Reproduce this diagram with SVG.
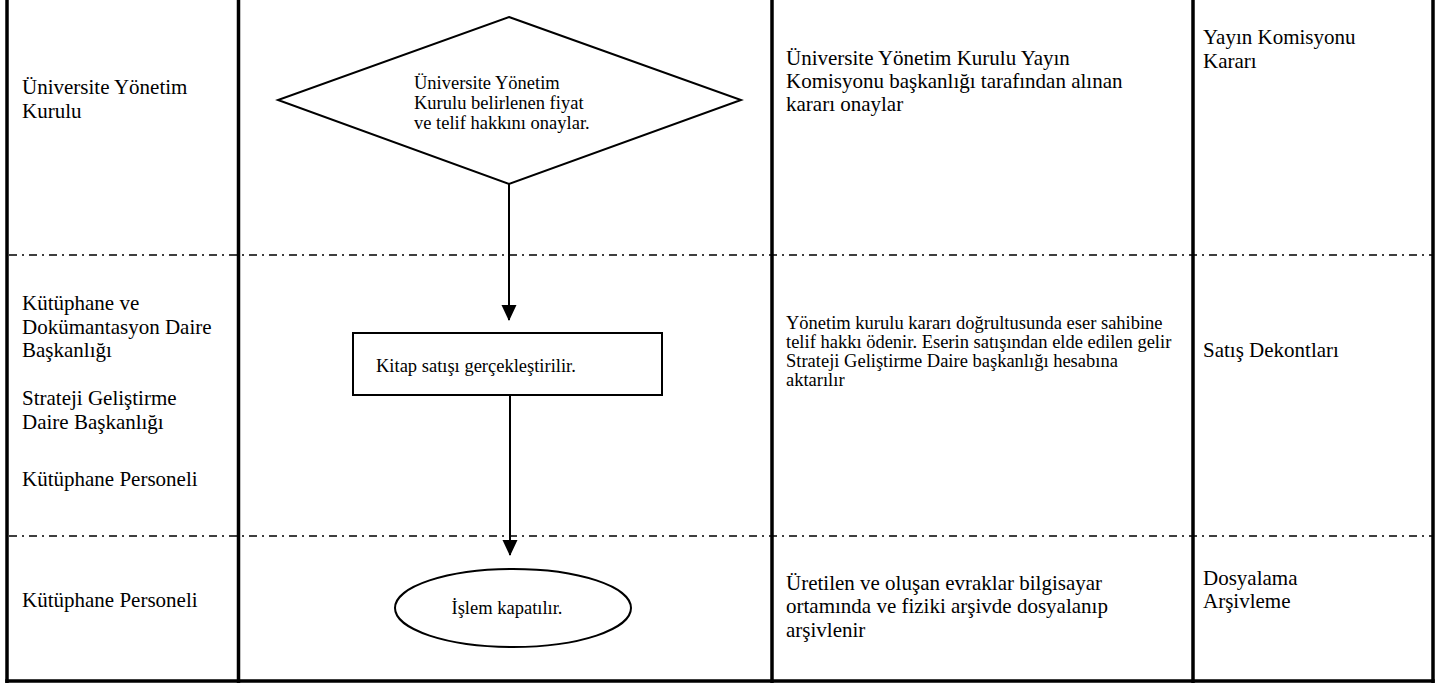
<svg xmlns="http://www.w3.org/2000/svg" width="1446" height="685" viewBox="0 0 1446 685">
<defs>
<style>
text{font-family:"Liberation Serif","Times New Roman",Times,serif;fill:#000}
.t{font-size:21px}
.s{font-size:18.5px}
.frame{stroke:#000;stroke-width:3.5;fill:none}
.lane{stroke:#000;stroke-width:1.6;stroke-dasharray:8 5 2 5;fill:none}
.shape{stroke:#000;stroke-width:2;fill:#fff}
.conn{stroke:#000;stroke-width:2;fill:none}
</style>
<marker id="arr" markerWidth="16" markerHeight="17" refX="16" refY="8" orient="auto" markerUnits="userSpaceOnUse" viewBox="0 0 17 16">
<path d="M0,0 L17,8 L0,16 Z" fill="#000"/>
</marker>
</defs>
<rect width="1446" height="685" fill="#fff"/>
<g id="grid">
<line class="lane" x1="9" y1="255" x2="1432" y2="255"/>
<line class="lane" x1="9" y1="536" x2="1432" y2="536"/>
<line class="frame" x1="7" y1="0" x2="7" y2="683"/>
<line class="frame" x1="238.5" y1="0" x2="238.5" y2="683"/>
<line class="frame" x1="772" y1="0" x2="772" y2="683"/>
<line class="frame" x1="1193" y1="0" x2="1193" y2="683"/>
<line class="frame" x1="1433" y1="0" x2="1433" y2="683"/>
<line class="frame" x1="5.25" y1="681" x2="1434.75" y2="681"/>
</g>
<g id="labels" font-family="Liberation Serif, serif">
<text class="t" x="22" y="94">Üniversite Yönetim</text>
<text class="t" x="22" y="118">Kurulu</text>
<text class="t" x="22" y="310">Kütüphane ve</text>
<text class="t" x="22" y="333.5">Dokümantasyon Daire</text>
<text class="t" x="22" y="357">Başkanlığı</text>
<text class="t" x="22" y="405">Strateji Geliştirme</text>
<text class="t" x="22" y="428.5">Daire Başkanlığı</text>
<text class="t" x="22" y="486">Kütüphane Personeli</text>
<text class="t" x="22" y="607">Kütüphane Personeli</text>
<text class="t" x="786" y="65">Üniversite Yönetim Kurulu Yayın</text>
<text class="t" x="786" y="88">Komisyonu başkanlığı tarafından alınan</text>
<text class="t" x="786" y="111">kararı onaylar</text>
<text class="s" x="786" y="329">Yönetim kurulu kararı doğrultusunda eser sahibine</text>
<text class="s" x="786" y="348">telif hakkı ödenir. Eserin satışından elde edilen gelir</text>
<text class="s" x="786" y="367">Strateji Geliştirme Daire başkanlığı hesabına</text>
<text class="s" x="786" y="386">aktarılır</text>
<text class="t" x="786" y="590">Üretilen ve oluşan evraklar bilgisayar</text>
<text class="t" x="786" y="613">ortamında ve fiziki arşivde dosyalanıp</text>
<text class="t" x="786" y="637">arşivlenir</text>
<text class="t" x="1203" y="44">Yayın Komisyonu</text>
<text class="t" x="1203" y="68">Kararı</text>
<text class="t" x="1203" y="357">Satış Dekontları</text>
<text class="t" x="1203" y="585">Dosyalama</text>
<text class="t" x="1203" y="608">Arşivleme</text>
</g>
<g id="connectors">
<line class="conn" x1="509" y1="184" x2="509" y2="320" marker-end="url(#arr)"/>
<line class="conn" x1="510" y1="395" x2="510" y2="555" marker-end="url(#arr)"/>
</g>
<g id="node-decision">
<polygon class="shape" points="509,17 741,100 509,184 278,100"/>
<text class="s" x="414" y="89">Üniversite Yönetim</text>
<text class="s" x="414" y="109">Kurulu belirlenen fiyat</text>
<text class="s" x="414" y="129">ve telif hakkını onaylar.</text>
</g>
<g id="node-process">
<rect class="shape" x="353" y="333" width="309" height="62"/>
<text class="s" x="376" y="372">Kitap satışı gerçekleştirilir.</text>
</g>
<g id="node-end">
<ellipse class="shape" cx="513" cy="608" rx="118" ry="39"/>
<text class="s" x="507" y="614" text-anchor="middle">İşlem kapatılır.</text>
</g>
</svg>
